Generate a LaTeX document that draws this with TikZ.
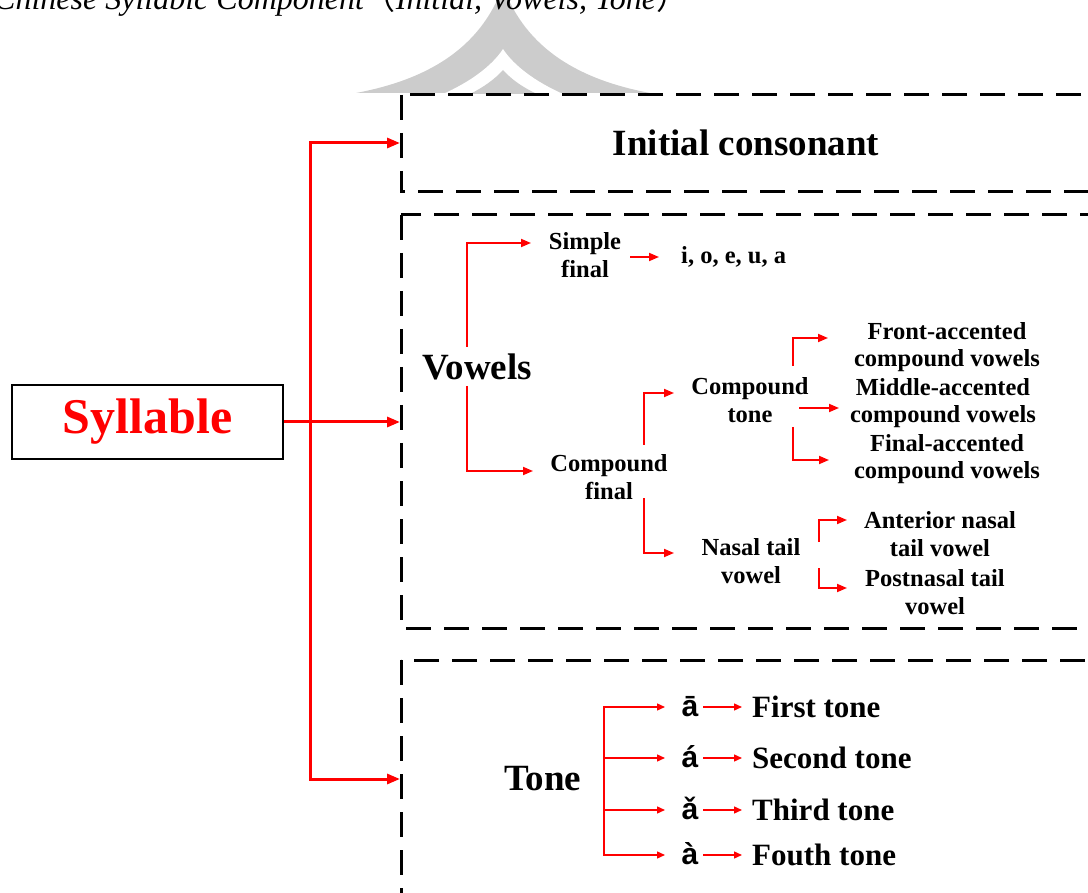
\documentclass[tikz,border=0pt]{standalone}
\usepackage{fontspec}
\setmainfont{Liberation Serif}
\newfontfamily\accfont{Liberation Sans}
\newfontfamily\cjkfont{Noto Sans CJK SC}
\usetikzlibrary{arrows.meta}
\begin{document}
\begin{tikzpicture}[x=1pt,y=-1pt,
  bigtxt/.style={font=\fontsize{37}{40}\selectfont\bfseries, inner sep=0pt},
  smalltxt/.style={font=\fontsize{24.5}{27.5}\selectfont\bfseries, align=center, inner sep=0pt},
  tonetxt/.style={font=\fontsize{31}{34}\selectfont\bfseries, inner sep=0pt, anchor=west},
  acctxt/.style={font=\accfont\fontsize{30}{32}\selectfont\bfseries, inner sep=0pt, anchor=base},
  dbox/.style={draw=black, line width=3pt, dash pattern=on 25pt off 13pt},
  mainarrow/.style={draw=red, line width=3pt, line join=miter, -{Triangle[length=13pt,width=10pt]}},
  mainarrows/.style={draw=red, line width=3pt, line join=miter, {Triangle[length=13pt,width=10pt]}-{Triangle[length=13pt,width=10pt]}},
  brarrow/.style={draw=red, line width=1.8pt, line join=miter, -{Triangle[length=10pt,width=8pt]}},
  tarrow/.style={draw=red, line width=1.4pt, -{Triangle[length=8pt,width=7pt]}},
  tarrows/.style={draw=red, line width=1.4pt, {Triangle[length=8pt,width=7pt]}-{Triangle[length=8pt,width=7pt]}}
]
\useasboundingbox (0,0) rectangle (1088,893);

% watermark
\fill[black!20] (356,93) .. controls (425,80) and (480,50) .. (503,-14)
  .. controls (526,50) and (581,80) .. (650,93) -- cycle;
\fill[white] (443,94) .. controls (470,82) and (492,66) .. (503,49)
  .. controls (514,66) and (536,82) .. (563,94) -- cycle;
\fill[black!20] (470,94) .. controls (484,87) and (495,79) .. (503,70)
  .. controls (511,79) and (522,87) .. (537,94) -- cycle;

% caption
\node[anchor=base west, inner sep=0pt, font=\fontsize{32}{32}\selectfont\itshape] (cap) at (-6,10)
  {Chinese Syllabic Component{\cjkfont\upshape （}Initial, Vowels, Tone{\cjkfont\upshape ）}};

% dashed boxes
\draw[dbox] (401,95) rectangle (1100,192);
\draw[dbox] (401,215) rectangle (1100,628);
\draw[dbox] (401,660) rectangle (1100,930);

% syllable
\node[draw=black, line width=2.5pt, minimum width=271pt, minimum height=74pt, inner sep=0pt,
  text=red, font=\fontsize{50}{50}\selectfont\bfseries] (syl) at (147.5,422) {Syllable};

\coordinate (t1) at (310,143);
\coordinate (t3) at (310,779);
\coordinate (b1w) at (400,143);
\coordinate (b2w) at (400,422);
\coordinate (b3w) at (400,779);
\draw[mainarrows] (b1w) -- (t1) -- (t3) -- (b3w);
\draw[mainarrow] (syl.east) -- (b2w);

% box texts
\node[bigtxt] (init) at (746,143) {Initial consonant};
\node[bigtxt] (vow) at (477,367) {Vowels};
\node[bigtxt] (tone) at (543,779) {Tone};

% vowels subtree
\node[smalltxt] (sf) at (585,255) {Simple\\final};
\node[smalltxt, anchor=west] (vals) at (681,257) {i, o, e, u, a};
\node[smalltxt] (cf) at (609,477) {Compound\\final};
\node[smalltxt] (ct) at (750,400) {Compound\\tone};
\node[smalltxt] (nt) at (751,561) {Nasal tail\\vowel};
\node[smalltxt] (fa) at (947,347) {Front-accented\\compound vowels};
\node[smalltxt] (ma) at (943,403) {Middle-accented\\compound vowels};
\node[smalltxt] (la) at (947,459) {Final-accented\\compound vowels};
\node[smalltxt] (an) at (940,534) {Anterior nasal\\tail vowel};
\node[smalltxt] (pn) at (935,592) {Postnasal tail\\vowel};

\coordinate (va) at (467,347);
\coordinate (vb) at (467,386);
\coordinate (sfin) at (531,243);
\coordinate (cfin) at (533,471);
\draw[brarrow] (va) |- (sfin);
\draw[brarrow] (vb) |- (cfin);
\draw[brarrow] (630,257) -- (659,257);

\coordinate (cfa) at (644,445);
\coordinate (cfb) at (644,498);
\coordinate (cta) at (674,393);
\coordinate (nta) at (674,553);
\draw[brarrow] (cfa) |- (cta);
\draw[brarrow] (cfb) |- (nta);

\coordinate (ctu) at (793,366);
\coordinate (ctl) at (793,427);
\coordinate (fat) at (828,338);
\coordinate (lat) at (829,460);
\draw[brarrow] (ctu) |- (fat);
\draw[brarrow] (799,408) -- (839,408);
\draw[brarrow] (ctl) |- (lat);

\coordinate (ntu) at (819,542);
\coordinate (ntl) at (819,568);
\coordinate (ant) at (847,520);
\coordinate (pnt) at (847,588);
\draw[brarrow] (ntu) |- (ant);
\draw[brarrow] (ntl) |- (pnt);

% tone subtree
\node[acctxt] (a1) at (690,716) {ā};
\node[acctxt] (a2) at (690,767) {á};
\node[acctxt] (a3) at (690,819) {ǎ};
\node[acctxt] (a4) at (690,864) {à};
\node[tonetxt] (n1) at (752,707) {First tone};
\node[tonetxt] (n2) at (752,758) {Second tone};
\node[tonetxt] (n3) at (752,810) {Third tone};
\node[tonetxt] (n4) at (752,855) {Fouth tone};

\draw[tarrows] (665,707) -- (604,707) -- (604,855) -- (665,855);
\draw[tarrow] (604,758) -- (665,758);
\draw[tarrow] (604,810) -- (665,810);
\foreach \y in {707,758,810,855} \draw[tarrow] (703,\y) -- (742,\y);
\end{tikzpicture}
\end{document}
